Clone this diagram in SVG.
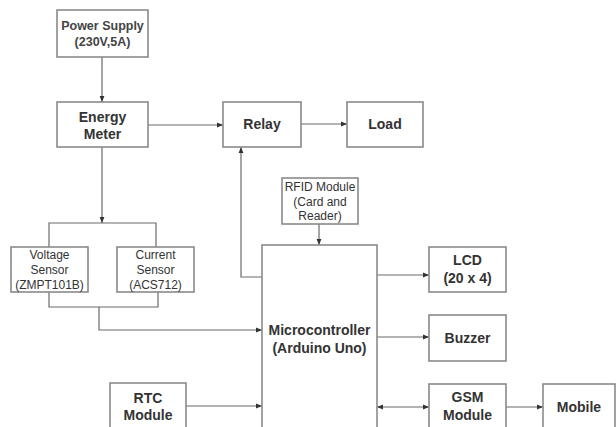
<svg xmlns="http://www.w3.org/2000/svg" width="616" height="427" viewBox="0 0 616 427">
<style>
.box{fill:#fff;stroke:#8a8a8a;stroke-width:1.6}
.big{font-family:"Liberation Sans",Arial,sans-serif;font-size:14px;font-weight:bold;fill:#333;text-anchor:middle}
.sm{font-family:"Liberation Sans",Arial,sans-serif;font-size:12px;fill:#333;text-anchor:middle}
.ps{font-family:"Liberation Sans",Arial,sans-serif;font-size:12.5px;font-weight:bold;fill:#444;text-anchor:middle}
.ln{fill:none;stroke:#6a6a6a;stroke-width:1.2}
</style>
<defs>
<marker id="ah" viewBox="0 0 10 10" refX="10" refY="5" markerWidth="6" markerHeight="6" orient="auto-start-reverse" markerUnits="userSpaceOnUse">
<path d="M0,1 L10,5 L0,9 z" fill="#333"/>
</marker>
</defs>
<rect width="616" height="427" fill="#fff"/>
<g id="connectors">
<path class="ln" d="M102,57 V102" marker-end="url(#ah)"/>
<path class="ln" d="M148,125 H223" marker-end="url(#ah)"/>
<path class="ln" d="M301,124 H347" marker-end="url(#ah)"/>
<path class="ln" d="M102,147 V223" marker-end="url(#ah)"/>
<path class="ln" d="M49,247 V223 H156 V247"/>
<path class="ln" d="M49,292 V307 H158 V292"/>
<path class="ln" d="M99,307 V330 H262" marker-end="url(#ah)"/>
<path class="ln" d="M262,277 H241 V147" marker-end="url(#ah)"/>
<path class="ln" d="M319,224 V245" marker-end="url(#ah)"/>
<path class="ln" d="M377,275 H429" marker-end="url(#ah)"/>
<path class="ln" d="M377,337 H429" marker-end="url(#ah)"/>
<path class="ln" d="M377,407 H429" marker-start="url(#ah)" marker-end="url(#ah)"/>
<path class="ln" d="M506,407 H543" marker-end="url(#ah)"/>
<path class="ln" d="M186,406 H262" marker-end="url(#ah)"/>
</g>
<g id="power-supply">
<rect class="box" x="57" y="10" width="91" height="47"/>
<text class="ps" x="102.5" y="30">Power Supply</text>
<text class="ps" x="102.5" y="46">(230V,5A)</text>
</g>
<g id="energy-meter">
<rect class="box" x="57" y="102" width="91" height="45"/>
<text class="big" x="102.5" y="122">Energy</text>
<text class="big" x="102.5" y="139">Meter</text>
</g>
<g id="relay">
<rect class="box" x="223" y="102" width="78" height="45"/>
<text class="big" x="262" y="129">Relay</text>
</g>
<g id="load">
<rect class="box" x="347" y="102" width="76" height="45"/>
<text class="big" x="385" y="129">Load</text>
</g>
<g id="rfid">
<rect class="box" x="282" y="178" width="76" height="46"/>
<text class="sm" x="320" y="191">RFID Module</text>
<text class="sm" x="320" y="206">(Card and</text>
<text class="sm" x="320" y="220">Reader)</text>
</g>
<g id="voltage-sensor">
<rect class="box" x="11" y="247" width="77" height="45"/>
<text class="sm" x="49.5" y="259">Voltage</text>
<text class="sm" x="49.5" y="274">Sensor</text>
<text class="sm" x="49.5" y="289">(ZMPT101B)</text>
</g>
<g id="current-sensor">
<rect class="box" x="117" y="247" width="77" height="45"/>
<text class="sm" x="155.5" y="259">Current</text>
<text class="sm" x="155.5" y="274">Sensor</text>
<text class="sm" x="155.5" y="289">(ACS712)</text>
</g>
<g id="microcontroller">
<rect class="box" x="262" y="245" width="115" height="190"/>
<text class="big" x="319.5" y="335">Microcontroller</text>
<text class="big" x="319.5" y="353">(Arduino Uno)</text>
</g>
<g id="lcd">
<rect class="box" x="429" y="247" width="77" height="45"/>
<text class="big" x="467.5" y="265">LCD</text>
<text class="big" x="467.5" y="283">(20 x 4)</text>
</g>
<g id="buzzer">
<rect class="box" x="429" y="315" width="77" height="46"/>
<text class="big" x="467.5" y="343">Buzzer</text>
</g>
<g id="gsm">
<rect class="box" x="429" y="384" width="77" height="50"/>
<text class="big" x="467.5" y="402">GSM</text>
<text class="big" x="467.5" y="420">Module</text>
</g>
<g id="mobile">
<rect class="box" x="543" y="384" width="72" height="50"/>
<text class="big" x="579" y="412">Mobile</text>
</g>
<g id="rtc">
<rect class="box" x="110" y="383" width="76" height="50"/>
<text class="big" x="148" y="403">RTC</text>
<text class="big" x="148" y="420">Module</text>
</g>
</svg>
